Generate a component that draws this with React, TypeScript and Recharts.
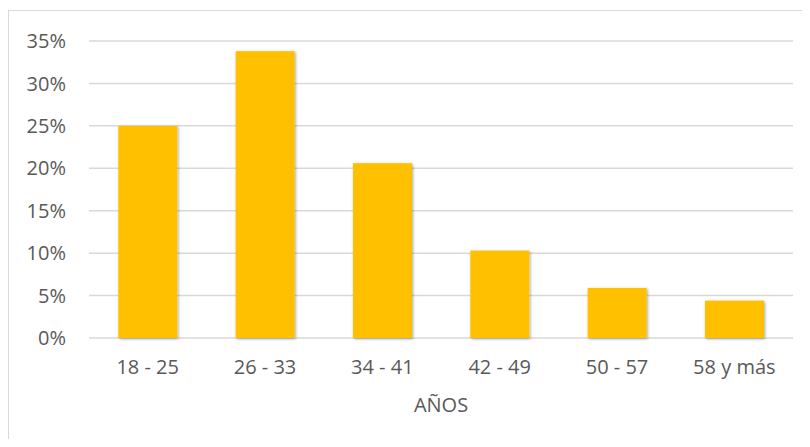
import { BarChart, Bar, XAxis, YAxis, CartesianGrid } from "recharts";

const categories = ["18 - 25", "26 - 33", "34 - 41", "42 - 49", "50 - 57", "58 y más"];
const shares = [0.25, 0.338, 0.206, 0.103, 0.059, 0.044];
const yTicks = [0, 0.05, 0.1, 0.15, 0.2, 0.25, 0.3, 0.35];

const data = categories.map((c, i) => ({ edad: c, valor: shares[i] }));

const TEXT = "#595959";
const font = "'Open Sans', 'Liberation Sans', sans-serif";

// barra con sombra suave como en Excel
const ShadowBar = (props: any) => {
  const { x, y, width, height, fill, index } = props;
  const id = `sh-${index}`;
  return (
    <g>
      <defs>
        <filter id={id} x="-20%" y="-20%" width="140%" height="140%">
          <feDropShadow dx="1" dy="1" stdDeviation="1.5" floodColor="#000" floodOpacity="0.35" />
        </filter>
      </defs>
      <rect x={x} y={y} width={width} height={height} fill={fill} filter={`url(#${id})`} />
    </g>
  );
};

export default function App() {
  return (
    <div style={{ position: "relative", width: 810, height: 447, margin: -8, overflow: "hidden", background: "#fff" }}>
      <div
        style={{
          position: "absolute",
          left: 8,
          top: 10,
          width: 830,
          height: 460,
          border: "1.5px solid #d9d9d9",
          boxSizing: "border-box",
        }}
      />
      <div style={{ position: "absolute", left: 0, top: 0 }}>
        <BarChart
          width={810}
          height={447}
          data={data}
          margin={{ top: 41, right: 17, left: 0, bottom: 79 }}
          barCategoryGap="25%"
        >
          <CartesianGrid vertical={false} stroke="#d9d9d9" strokeWidth={1.5} />
          <XAxis
            dataKey="edad"
            axisLine={false}
            tickLine={false}
            tickMargin={16}
            height={30}
            tick={{ fill: TEXT, fontSize: 20, fontFamily: font }}
            label={{ value: "AÑOS", position: "bottom", offset: 30, fill: TEXT, fontSize: 20, fontFamily: font }}
          />
          <YAxis
            width={89}
            domain={[0, 0.35]}
            ticks={yTicks}
            axisLine={false}
            tickLine={false}
            tickMargin={17}
            tickFormatter={(v: number) => `${Math.round(v * 100)}%`}
            tick={{ fill: TEXT, fontSize: 20, fontFamily: font }}
          />
          <Bar dataKey="valor" fill="#FFC000" isAnimationActive={false} shape={ShadowBar} />
        </BarChart>
      </div>
    </div>
  );
}
